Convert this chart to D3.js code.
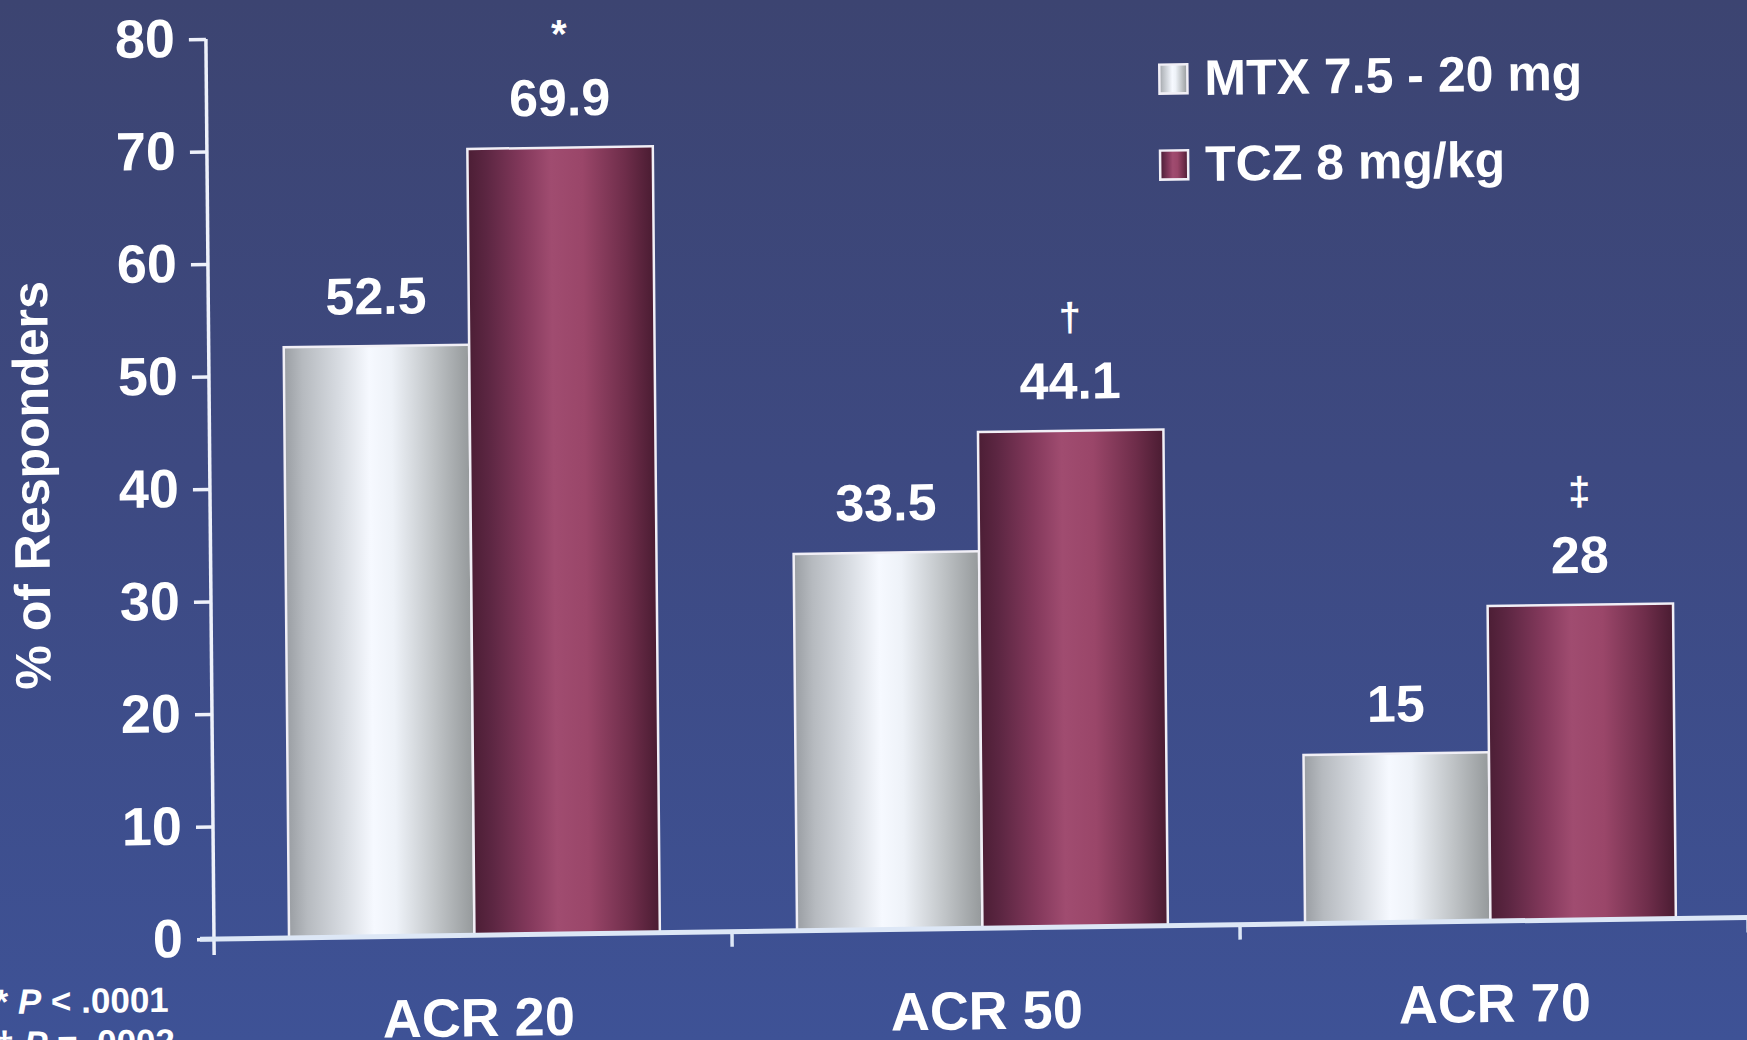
<!DOCTYPE html>
<html>
<head>
<meta charset="utf-8">
<script src="https://cdn.jsdelivr.net/npm/d3@7"></script>
<style>
  html, body { margin: 0; padding: 0; background: #3c4a80; overflow: hidden; }
  svg { display: block; }
  text { font-family: "Liberation Sans", Arial, Helvetica, sans-serif; font-weight: bold; fill: #ffffff; }
</style>
</head>
<body>
<svg id="chart" width="1747" height="1040"></svg>
<script>
// ACR response rates by treatment arm
const categories = ["ACR 20", "ACR 50", "ACR 70"];
const seriesNames = ["MTX 7.5 - 20 mg", "TCZ 8 mg/kg"];
const mtxValues = [52.5, 33.5, 15];
const tczValues = [69.9, 44.1, 28];
const significanceMarks = ["*", "\u2020", "\u2021"];
const yTickValues = [0, 10, 20, 30, 40, 50, 60, 70, 80];
const footnotes = [
  { mark: "*", rel: "<", p: ".0001" },
  { mark: "\u2020", rel: "=", p: ".0002" }
];

const W = 1747, H = 1040;
const svg = d3.select("#chart");

// gradients: slide background and cylinder-like bar fills
const defs = svg.append("defs");
const bg = defs.append("linearGradient").attr("id", "bg")
  .attr("x1", 0).attr("y1", 0).attr("x2", 0).attr("y2", 1);
[["0%", "#3c4471"], ["45%", "#3d4981"], ["100%", "#3e5296"]]
  .forEach(([o, c]) => bg.append("stop").attr("offset", o).attr("stop-color", c));

const grayGrad = defs.append("linearGradient").attr("id", "grayFill")
  .attr("x1", 0).attr("y1", 0).attr("x2", 1).attr("y2", 0);
[["0%", "#9a9ea3"], ["10%", "#b6babf"], ["30%", "#d8dce2"], ["46%", "#f6f9ff"],
 ["58%", "#eef2f8"], ["80%", "#c0c4c7"], ["100%", "#95999b"]]
  .forEach(([o, c]) => grayGrad.append("stop").attr("offset", o).attr("stop-color", c));

const redGrad = defs.append("linearGradient").attr("id", "redFill")
  .attr("x1", 0).attr("y1", 0).attr("x2", 1).attr("y2", 0);
[["0%", "#4c1e35"], ["10%", "#5c2642"], ["30%", "#84395c"], ["45%", "#a04c70"],
 ["62%", "#9a4669"], ["85%", "#6e2d4a"], ["100%", "#4a1c32"]]
  .forEach(([o, c]) => redGrad.append("stop").attr("offset", o).attr("stop-color", c));

const fills = ["url(#grayFill)", "url(#redFill)"];

svg.append("rect").attr("width", W).attr("height", H).attr("fill", "url(#bg)");

// the whole slide sits slightly askew
const ox = 212, oy = 939, kx = 0.009, ky = 0.014;
const g = svg.append("g")
  .attr("transform", `matrix(1,${-ky},${kx},1,${-kx * oy},${ky * ox})`);

const y = d3.scaleLinear().domain([0, 80]).range([939, 39]);
const x0 = d3.scaleBand().domain(categories).range([224, 1748]).padding(0);
const bw = x0.bandwidth();
const x1 = d3.scaleBand().domain(seriesNames).range([bw * 0.128, bw * 0.858]).padding(0);

const rows = categories.map((c, i) => ({
  cat: c, mark: significanceMarks[i],
  vals: [mtxValues[i], tczValues[i]]
}));

// bars
const groups = g.selectAll("g.grp").data(rows).join("g")
  .attr("class", "grp")
  .attr("transform", d => `translate(${x0(d.cat)},0)`);

groups.selectAll("rect").data(d => d.vals.map((v, j) => ({ v, s: seriesNames[j], j })))
  .join("rect")
  .attr("x", d => x1(d.s))
  .attr("y", d => y(d.v))
  .attr("width", x1.bandwidth())
  .attr("height", d => y(0) - y(d.v))
  .attr("fill", d => fills[d.j])
  .attr("stroke", "#f1eff6")
  .attr("stroke-width", 2.5);

// value labels
const labelGap = 32;
groups.selectAll("text.val").data(d => d.vals.map((v, j) => ({ v, s: seriesNames[j] })))
  .join("text").attr("class", "val")
  .attr("x", d => x1(d.s) + x1.bandwidth() / 2)
  .attr("y", d => y(d.v) - labelGap)
  .attr("text-anchor", "middle")
  .attr("font-size", 52)
  .text(d => String(d.v));

// significance marks over the TCZ bars
groups.append("text")
  .attr("x", x1(seriesNames[1]) + x1.bandwidth() / 2)
  .attr("y", d => y(d.vals[1]) - labelGap - 68)
  .attr("text-anchor", "middle")
  .attr("font-size", 40)
  .text(d => d.mark);

// y axis
const yAxis = g.append("g").attr("transform", "translate(214,0)")
  .call(d3.axisLeft(y).tickValues(yTickValues).tickSize(17).tickPadding(14));
yAxis.select(".domain").remove();
yAxis.selectAll(".tick line").attr("stroke", "#eef1fa").attr("stroke-width", 3.5);
yAxis.selectAll(".tick text").attr("font-size", 54).attr("fill", "#ffffff")
  .attr("font-family", "'Liberation Sans', Arial, sans-serif").attr("font-weight", "bold");
g.append("line").attr("x1", 214).attr("x2", 214).attr("y1", y(80)).attr("y2", y(0) + 16)
  .attr("stroke", "#eef1fa").attr("stroke-width", 3.5);

// x axis line with boundary ticks
g.append("line").attr("x1", 200).attr("x2", 1760).attr("y1", y(0)).attr("y2", y(0))
  .attr("stroke", "#dde7f6").attr("stroke-width", 5);
g.selectAll("line.bound").data(categories).join("line").attr("class", "bound")
  .attr("x1", d => x0(d) + bw).attr("x2", d => x0(d) + bw)
  .attr("y1", y(0)).attr("y2", y(0) + 15)
  .attr("stroke", "#dde7f6").attr("stroke-width", 3.5);

// category labels
const xAxis = g.append("g").attr("transform", `translate(0,${y(0)})`)
  .call(d3.axisBottom(x0).tickSize(0).tickPadding(0));
xAxis.select(".domain").remove();
xAxis.selectAll(".tick text")
  .attr("y", 101).attr("dy", 0)
  .attr("font-size", 54).attr("fill", "#ffffff")
  .attr("font-family", "'Liberation Sans', Arial, sans-serif").attr("font-weight", "bold");

// y axis title
g.append("text")
  .attr("transform", "translate(53,483) rotate(-90)")
  .attr("text-anchor", "middle")
  .attr("font-size", 50)
  .text("% of Responders");

// legend
const legend = g.append("g");
seriesNames.forEach((name, i) => {
  const ly = 78 + i * 86;
  legend.append("rect")
    .attr("x", 1167).attr("y", ly).attr("width", 28).attr("height", 29)
    .attr("fill", fills[i]).attr("stroke", "#f1eff6").attr("stroke-width", 2.5);
  legend.append("text")
    .attr("x", 1212).attr("y", ly + 31)
    .attr("font-size", 50)
    .text(name);
});

// footnotes
footnotes.forEach((f, i) => {
  const t = g.append("text").attr("x", -6).attr("y", 1011 + i * 42).attr("font-size", 35);
  t.append("tspan").text(f.mark + " ");
  t.append("tspan").attr("font-style", "italic").text("P");
  t.append("tspan").text(` ${f.rel} ${f.p}`);
});
</script>
</body>
</html>
